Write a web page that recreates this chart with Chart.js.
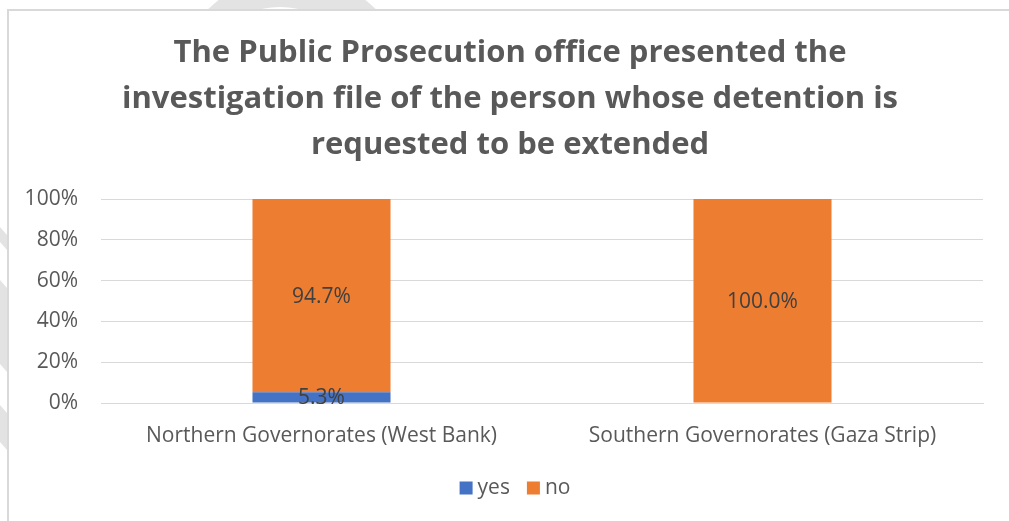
<!DOCTYPE html>
<html>
<head>
<meta charset="utf-8">
<script src="https://cdn.jsdelivr.net/npm/chart.js@4/dist/chart.umd.min.js"></script>
<style>
  html, body { margin: 0; padding: 0; background: #ffffff; }
  #wrap { width: 1009px; height: 521px; position: relative; }
</style>
</head>
<body>
<div id="wrap"><canvas id="chart" width="1009" height="521"></canvas></div>
<script>
// Regions compared
const categories = ['Northern Governorates (West Bank)', 'Southern Governorates (Gaza Strip)'];
// Share of cases (%) in which the investigation file was presented
const yesValues = [5.3, 0];
const noValues = [94.7, 100];
const yTicks = [0, 20, 40, 60, 80, 100];

const titleLines = [
  'The Public Prosecution office presented the',
  'investigation file of the person whose detention is',
  'requested to be extended'
];

const FONT = '"Open Sans", Lato, "Liberation Sans", sans-serif';
const TEXT = '#595959';

// Page frame and faint background marks behind the chart
const framePlugin = {
  id: 'frame',
  beforeDraw(chart) {
    const ctx = chart.ctx;
    ctx.save();
    ctx.fillStyle = '#ffffff';
    ctx.fillRect(0, 0, chart.width, chart.height);
    // faint watermark fragments in the margins
    ctx.fillStyle = '#e3e3e3';
    ctx.beginPath();
    ctx.rect(0, 0, chart.width, 9);
    ctx.clip();
    ctx.beginPath();
    ctx.arc(292, 95, 120, 0, Math.PI * 2);
    ctx.arc(280, 95, 88, 0, Math.PI * 2, true);
    ctx.fill();
    ctx.restore();

    ctx.save();
    ctx.beginPath();
    ctx.rect(0, 0, 7, chart.height);
    ctx.clip();
    ctx.fillStyle = '#e3e3e3';
    const stripes = [[227, 250], [280, 330], [320, 372], [405, 450]];
    stripes.forEach(([a, b]) => {
      ctx.beginPath();
      ctx.moveTo(0, a);
      ctx.lineTo(7, a + 8);
      ctx.lineTo(7, b);
      ctx.lineTo(0, b - 8);
      ctx.closePath();
      ctx.fill();
    });
    ctx.restore();

    ctx.save();
    ctx.strokeStyle = '#d9d9d9';
    ctx.lineWidth = 2;
    ctx.beginPath();
    ctx.moveTo(8, chart.height);
    ctx.lineTo(8, 10);
    ctx.lineTo(chart.width, 10);
    ctx.stroke();
    ctx.restore();
  }
};

// Three-line bold heading, centred on the framed area
const headingPlugin = {
  id: 'heading',
  afterDraw(chart) {
    const ctx = chart.ctx;
    ctx.save();
    ctx.font = 'bold 31px ' + FONT;
    ctx.fillStyle = TEXT;
    ctx.textAlign = 'center';
    ctx.textBaseline = 'middle';
    const rows = [53, 99, 145];
    titleLines.forEach((line, i) => ctx.fillText(line, 510, rows[i]));
    ctx.restore();
  }
};

// Legend row under the axis: square swatch followed by series name
const legendPlugin = {
  id: 'legendRow',
  afterDraw(chart) {
    const ctx = chart.ctx;
    ctx.save();
    ctx.font = '21px ' + FONT;
    ctx.textBaseline = 'middle';
    ctx.textAlign = 'left';
    const box = 13, gap = 5, spacing = 17, cy = 488;
    const items = chart.data.datasets.map(ds => ({
      label: ds.label, color: ds.backgroundColor, w: ctx.measureText(ds.label).width
    }));
    const total = items.reduce((s, it) => s + box + gap + it.w, 0) + spacing * (items.length - 1);
    let x = 515 - total / 2;
    items.forEach(it => {
      ctx.fillStyle = it.color;
      ctx.fillRect(x, cy - 6.5, box, box);
      ctx.fillStyle = TEXT;
      ctx.fillText(it.label, x + box + gap, cy);
      x += box + gap + it.w + spacing;
    });
    ctx.restore();
  }
};

// Value labels centred in each bar segment
const valueLabels = {
  id: 'valueLabels',
  afterDatasetsDraw(chart) {
    const ctx = chart.ctx;
    ctx.save();
    ctx.font = '21px ' + FONT;
    ctx.fillStyle = '#404040';
    ctx.textAlign = 'center';
    ctx.textBaseline = 'middle';
    chart.data.datasets.forEach((ds, di) => {
      const meta = chart.getDatasetMeta(di);
      meta.data.forEach((bar, i) => {
        const v = ds.data[i];
        if (!v) return;
        const p = bar.getProps(['x', 'y', 'base'], true);
        ctx.fillText(v.toFixed(1) + '%', p.x, (p.y + p.base) / 2 + 1);
      });
    });
    ctx.restore();
  }
};

new Chart(document.getElementById('chart'), {
  type: 'bar',
  data: {
    labels: categories,
    datasets: [
      { label: 'yes', data: yesValues, backgroundColor: '#4472C4', categoryPercentage: 1, barPercentage: 0.313 },
      { label: 'no', data: noValues, backgroundColor: '#ED7D31', categoryPercentage: 1, barPercentage: 0.313 }
    ]
  },
  options: {
    responsive: false,
    animation: false,
    devicePixelRatio: 1,
    layout: { padding: { left: 0, right: 26, top: 199, bottom: 57 } },
    plugins: {
      title: { display: false },
      legend: { display: false },
      tooltip: { enabled: false }
    },
    scales: {
      x: {
        stacked: true,
        grid: { display: false, drawTicks: false },
        border: { display: true, color: '#d9d9d9', width: 1 },
        ticks: { color: TEXT, font: { family: FONT, size: 21 }, padding: 20 },
        afterFit(scale) { scale.height = 61; }
      },
      y: {
        stacked: true,
        min: 0,
        max: 100,
        afterBuildTicks(scale) { scale.ticks = yTicks.map(v => ({ value: v })); },
        grid: { color: '#d9d9d9', lineWidth: 1, drawTicks: false },
        border: { display: false },
        ticks: {
          color: TEXT,
          font: { family: FONT, size: 21 },
          padding: 23,
          callback: v => v + '%'
        },
        afterFit(scale) { scale.width = 101; }
      }
    }
  },
  plugins: [framePlugin, valueLabels, headingPlugin, legendPlugin]
});
</script>
</body>
</html>
